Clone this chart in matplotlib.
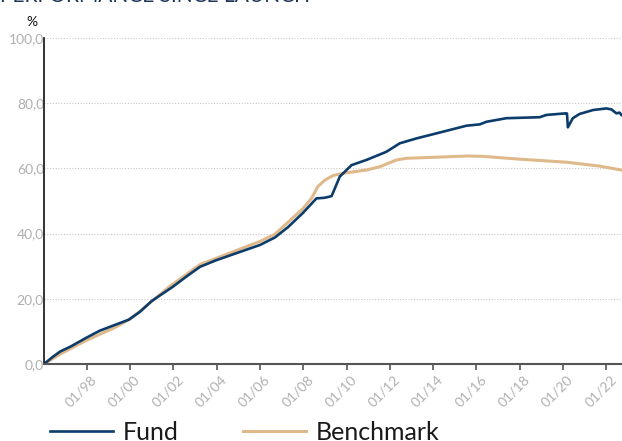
import matplotlib.pyplot as plt
from matplotlib.lines import Line2D
import matplotlib.transforms as mtransforms

plt.rcParams['font.family'] = ['Lato', 'DejaVu Sans']

# dates as fractional years, values in %
fund_dates = [1996.03, 1996.4, 1996.77, 1997.3, 1997.97, 1998.6, 1999.31, 1999.95,
              2000.46, 2001.0, 2001.98, 2002.6, 2003.23, 2003.97, 2005.0, 2006.0,
              2006.69, 2007.3, 2007.98, 2008.61, 2009.0, 2009.31, 2009.69, 2010.23,
              2010.92, 2011.84, 2012.46, 2013.23, 2014.3, 2015.54, 2016.15, 2016.46,
              2017.38, 2018.92, 2019.23, 2020.15, 2020.18, 2020.22, 2020.45, 2020.76,
              2021.38, 2022.0, 2022.23, 2022.46, 2022.61, 2022.69]
fund_values = [0.0, 2.0, 3.8, 5.5, 8.0, 10.2, 12.0, 13.6,
               16.0, 19.3, 23.7, 26.8, 29.8, 31.8, 34.2, 36.5,
               38.8, 42.0, 46.3, 50.8, 51.0, 51.5, 57.5, 61.0,
               62.6, 65.1, 67.7, 69.2, 71.0, 73.1, 73.5, 74.3,
               75.4, 75.7, 76.4, 76.9, 76.8, 72.6, 75.4, 76.7,
               77.9, 78.4, 78.1, 76.9, 77.1, 76.4]

bench_dates = [1996.03, 1996.77, 1997.97, 1999.31, 1999.95, 2000.46, 2001.84, 2003.23,
               2003.97, 2006.0, 2006.69, 2007.98, 2008.4, 2008.67, 2009.0, 2009.38,
               2009.84, 2010.92, 2011.53, 2012.31, 2012.77, 2014.0, 2015.54, 2016.3,
               2017.84, 2020.15, 2021.69, 2022.69]
bench_values = [0.0, 3.0, 7.2, 11.2, 13.6, 16.2, 23.8, 30.5,
                32.4, 37.6, 39.8, 47.6, 51.0, 54.4, 56.4, 57.8,
                58.5, 59.5, 60.5, 62.6, 63.1, 63.4, 63.8, 63.7,
                62.9, 61.9, 60.7, 59.5]

tick_years = list(range(1998, 2023, 2))
tick_labels = ['01/%02d' % (y % 100) for y in tick_years]
y_ticks = [0, 20, 40, 60, 80, 100]

navy = '#0b3c6b'
tan = '#e0b98a'
grey = '#b0b0b0'

fig = plt.figure(figsize=(6.22, 4.41), dpi=100)
ax = fig.add_axes([44 / 622, 1 - 364 / 441, 578 / 622, 326 / 441])

ax.plot(bench_dates, bench_values, color=tan, lw=2.2, solid_joinstyle='round')
ax.plot(fund_dates, fund_values, color=navy, lw=1.9, solid_joinstyle='round')

ax.set_xlim(1996.03, 2022.72)
ax.set_ylim(0, 100)

ax.set_yticks(y_ticks)
ax.set_yticklabels(['%d,0' % v for v in y_ticks])
ax.tick_params(axis='y', length=0, pad=0, labelsize=10, labelcolor=grey)
ax.grid(axis='y', color='#c8c8c8', linestyle=(0, (1, 1.5)), lw=0.8)

ax.set_xticks(tick_years)
ax.set_xticklabels(tick_labels, rotation=45, ha='right', va='center',
                   rotation_mode='anchor')
ax.tick_params(axis='x', length=4, width=1.2, color='#555555', pad=6,
               labelsize=10, labelcolor=grey)
# nudge rotated labels right so their top end sits just past the tick
offset = mtransforms.ScaledTranslation(8 / 100, 0, fig.dpi_scale_trans)
for lab in ax.get_xticklabels():
    lab.set_transform(lab.get_transform() + offset)

for side in ['top', 'right']:
    ax.spines[side].set_visible(False)
ax.spines['left'].set_color('#111111')
ax.spines['left'].set_linewidth(1.2)
ax.spines['bottom'].set_color('#555555')
ax.spines['bottom'].set_linewidth(1.5)

fig.text(32 / 622, 1 - 22 / 441, '%', ha='center', va='center', fontsize=10,
         color='#111111')
fig.text(0.0, 1 + 4 / 441, 'PERFORMANCE SINCE LAUNCH', ha='left', va='center',
         fontsize=15, color='#1d3557')

handles = [Line2D([], [], color=navy, lw=1.9), Line2D([], [], color=tan, lw=2.2)]
fig.legend(handles, ['Fund', 'Benchmark'], loc='center left',
           bbox_to_anchor=(50 / 622, 1 - 432 / 441), ncol=2, frameon=False,
           fontsize=18, handlelength=2.5, handletextpad=0.4, columnspacing=2.6,
           borderpad=0, borderaxespad=0, labelcolor='#1a1a1a')

fig.savefig('out.png', dpi=100)
